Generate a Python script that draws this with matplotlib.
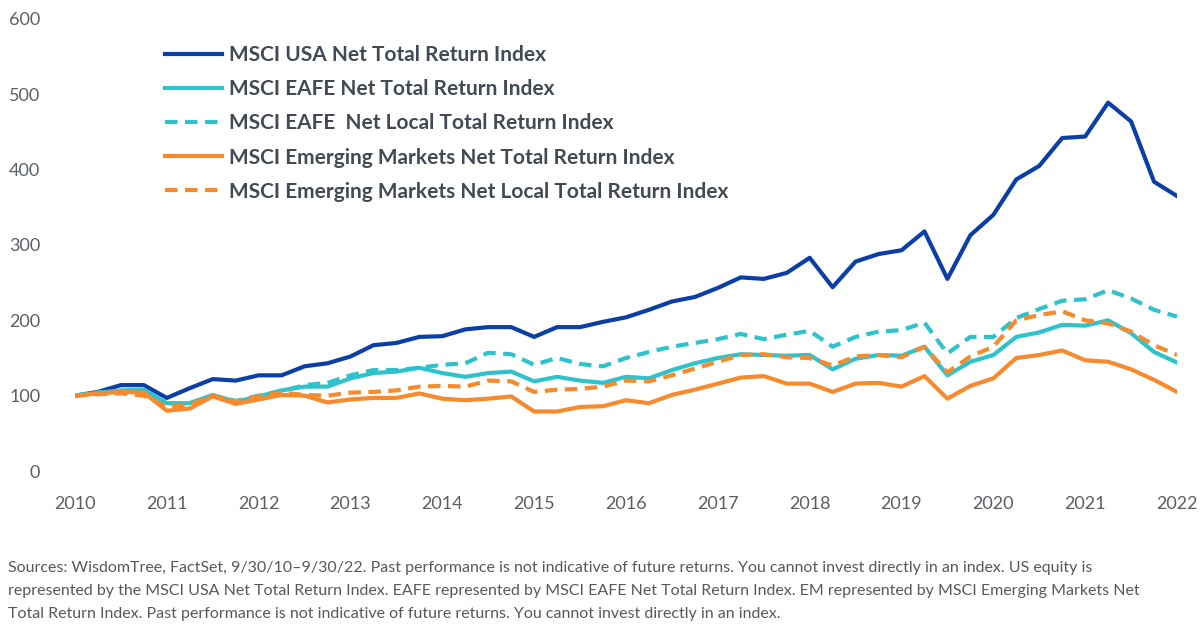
import numpy as np
import pandas as pd
import matplotlib
matplotlib.use('Agg')
import matplotlib.pyplot as plt

plt.rcParams['font.family'] = ['Lato', 'DejaVu Sans']

# quarterly observations, 9/30/10 - 9/30/22
quarters = pd.date_range('2010-09-30', '2022-09-30', freq='QE')
tick_labels = [str(y) for y in range(2010, 2023)]

usa = [100, 105, 114, 114, 97, 110, 122, 120, 127, 127, 139, 143, 152, 167, 170, 178,
       179, 188, 191, 191, 178, 191, 191, 198, 204, 214, 225, 231, 243, 257, 255, 263,
       283, 244, 278, 288, 293, 318, 255, 313, 340, 387, 405, 442, 444, 489, 464, 384, 365]
eafe = [100, 104, 107, 108, 90, 90, 101, 92, 99, 107, 112, 112, 123, 130, 132, 137,
        130, 125, 130, 132, 119, 125, 120, 117, 125, 123, 134, 143, 150, 155, 154, 153,
        154, 135, 149, 154, 153, 165, 127, 145, 154, 178, 184, 194, 193, 200, 183, 158, 144]
eafe_local = [100, 104, 106, 105, 88, 90, 100, 93, 100, 106, 114, 117, 127, 134, 134, 137,
              141, 143, 157, 155, 141, 150, 142, 139, 150, 158, 165, 170, 175, 182, 175, 181,
              186, 165, 178, 185, 187, 197, 156, 178, 178, 203, 215, 226, 228, 240, 229, 214, 205]
em = [100, 103, 105, 104, 80, 83, 99, 89, 95, 101, 100, 91, 95, 97, 97, 103,
      96, 94, 96, 99, 79, 79, 85, 86, 94, 90, 101, 108, 116, 124, 126, 116,
      116, 105, 116, 117, 112, 126, 96, 113, 123, 150, 154, 160, 147, 145, 135, 121, 105]
em_local = [100, 102, 103, 100, 85, 88, 100, 92, 99, 104, 101, 100, 104, 105, 107, 112,
            113, 112, 120, 119, 105, 108, 109, 112, 120, 119, 127, 136, 145, 154, 155, 151,
            150, 140, 152, 154, 151, 165, 131, 152, 165, 200, 207, 212, 200, 196, 185, 167, 154]

labels = ['MSCI USA Net Total Return Index',
          'MSCI EAFE Net Total Return Index',
          'MSCI EAFE  Net Local Total Return Index',
          'MSCI Emerging Markets Net Total Return Index',
          'MSCI Emerging Markets Net Local Total Return Index']

navy = '#0b3fa6'
cyan = '#2ec3cc'
orange = '#f68a2c'
text_grey = '#5a5f66'

fig = plt.figure(figsize=(12, 6.37), dpi=100)
ax = fig.add_axes([75/1200, 1 - 471/637, 1102/1200, 452/637])

x = np.arange(len(quarters))
lw = 3.0
ax.plot(x, usa, color=navy, lw=lw, label=labels[0])
ax.plot(x, eafe, color=cyan, lw=lw, label=labels[1])
ax.plot(x, eafe_local, color=cyan, lw=lw, dashes=(3, 1.8), label=labels[2])
ax.plot(x, em, color=orange, lw=lw, label=labels[3])
ax.plot(x, em_local, color=orange, lw=lw, dashes=(3, 1.8), label=labels[4])

ax.set_xlim(0, len(quarters) - 1)
ax.set_ylim(0, 600)
ax.set_xticks(x[::4])
ax.set_xticklabels(tick_labels)
ax.set_yticks(range(0, 601, 100))
ax.tick_params(axis='x', length=0, pad=18, labelsize=13, labelcolor=text_grey)
ax.tick_params(axis='y', length=0, pad=25, labelsize=13, labelcolor=text_grey)
for s in ax.spines.values():
    s.set_visible(False)

leg = ax.legend(loc='upper left', bbox_to_anchor=(90/1102, 1 - 26/452), frameon=False,
                borderpad=0, borderaxespad=0, handlelength=2.75, handletextpad=0.3,
                labelspacing=0.68, prop={'weight': 'bold', 'size': 15})
for t in leg.get_texts():
    t.set_color('#424b55')

note = ('Sources: WisdomTree, FactSet, 9/30/10\u20139/30/22. Past performance is not indicative of future returns. '
        'You cannot invest directly in an index. US equity is\n'
        'represented by the MSCI USA Net Total Return Index. EAFE represented by MSCI EAFE Net Total Return Index. '
        'EM represented by MSCI Emerging Markets Net\n'
        'Total Return Index. Past performance is not indicative of future returns. You cannot invest directly in an index.')
fig.text(8/1200, 1 - 561/637, note, ha='left', va='top', fontsize=11.5, color='#55595e',
         linespacing=1.8)

fig.savefig('out.png', dpi=100)
